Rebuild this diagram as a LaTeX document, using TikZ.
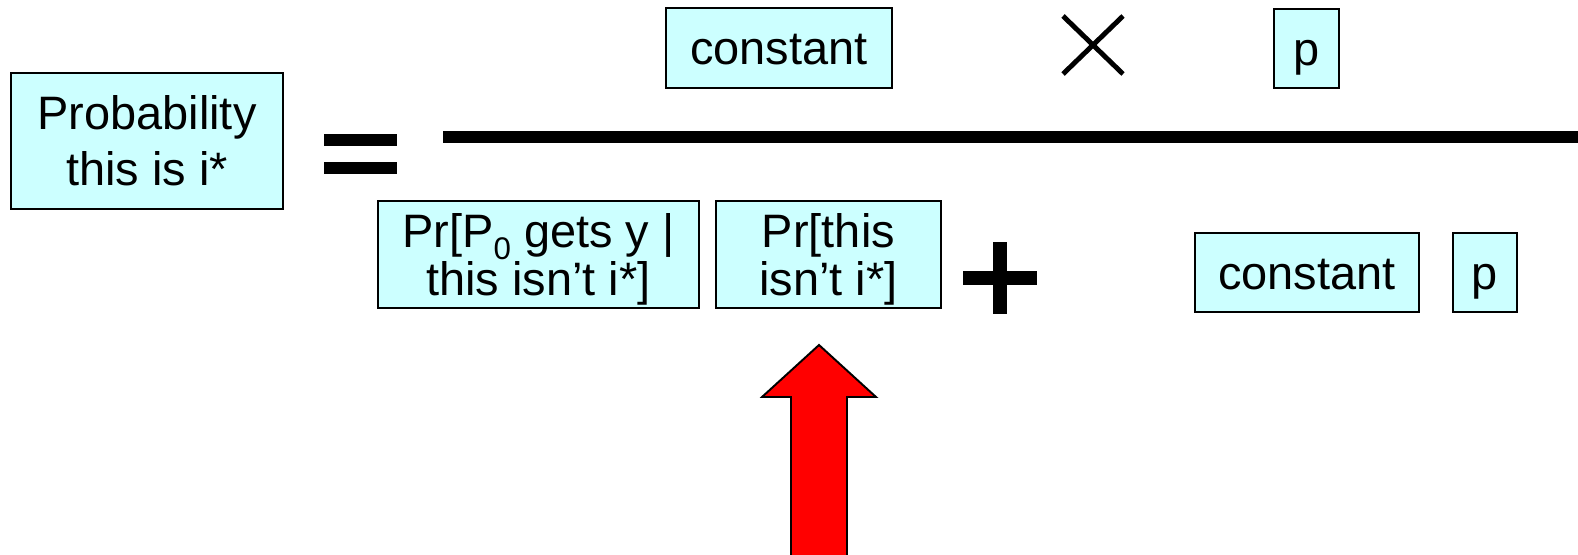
\documentclass[tikz,border=0pt]{standalone}
\usepackage{fontspec}
\setmainfont{Liberation Sans}
\usepackage{tikz}
\usetikzlibrary{positioning,calc}

\definecolor{termfill}{HTML}{CCFFFF}

\begin{document}
\begin{tikzpicture}[font=\fontsize{26.7}{32}\selectfont]
    \tikzstyle{term} = [rectangle, draw=black, fill=termfill, line width=1.1pt, inner sep=0pt, align=center]
    \tikzstyle{single} = [term, text height=19pt, text depth=0pt]
    \tikzstyle{tight} = [term, text depth=0pt, font=\fontsize{26.7}{27.5}\selectfont]
    \tikzstyle{bar} = [fill=black, draw=none]
    \tikzstyle{bigarr} = [draw=black, fill=red, line width=1.1pt, line join=miter]

    \useasboundingbox (0,0) rectangle (31.56,11.08);

    % left hand side
    \node [term, minimum width=5.44cm, minimum height=2.72cm] (lhs) at (2.94,8.26) {Probability\\this is i*};
    \fill [bar] (6.48,8.16) rectangle (7.94,8.40);
    \fill [bar] (6.48,7.60) rectangle (7.94,7.84);

    % numerator
    \node [single, minimum width=4.52cm, minimum height=1.60cm] (num1) at (15.58,10.12) {constant};
    \node [single, minimum width=1.30cm, minimum height=1.58cm] (num2) at (26.13,10.11) {p};
    \draw [line width=2.8pt] (21.26,9.60) -- (22.46,10.76);
    \draw [line width=2.8pt] (21.26,10.76) -- (22.46,9.60);

    % fraction line
    \fill [bar] (8.86,8.22) rectangle (31.56,8.46);

    % denominator
    \node [tight, minimum width=6.42cm, minimum height=2.14cm] (den1) at (10.77,5.99) {Pr[P\raisebox{-0.25em}{\fontsize{17.8}{18}\selectfont 0} gets y |\\this isn’t i*]};
    \node [tight, minimum width=4.50cm, minimum height=2.14cm, right=0.30cm of den1] (den2) {Pr[this\\isn’t i*]};
    \fill [bar] (19.26,5.38) rectangle (20.74,5.66);
    \fill [bar] (19.86,4.80) rectangle (20.14,6.24);
    \node [single, minimum width=4.48cm, minimum height=1.58cm] (den3) at (26.14,5.63) {constant};
    \node [single, minimum width=1.28cm, minimum height=1.58cm, right=0.64cm of den3] (den4) {p};

    % pointer at the second factor
    \draw [bigarr] (16.38,4.18) -- (17.52,3.14) -- (16.94,3.14) -- (16.94,-0.1)
        -- (15.82,-0.1) -- (15.82,3.14) -- (15.24,3.14) -- cycle;
\end{tikzpicture}
\end{document}
